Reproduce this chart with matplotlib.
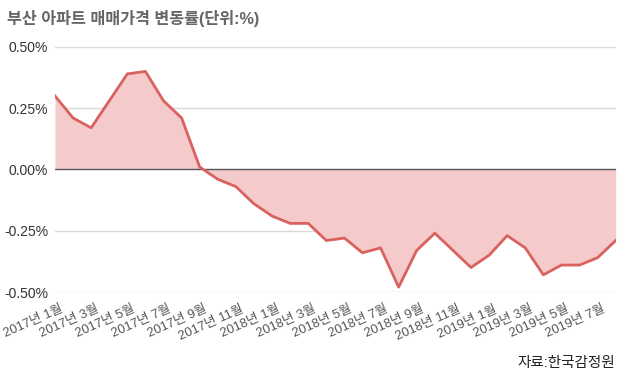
import matplotlib.pyplot as plt
import matplotlib.transforms as mtransforms
import numpy as np

plt.rcParams['font.family'] = ['Liberation Sans', 'Noto Sans CJK KR']

# monthly change, 2017.1 ~ 2019.8 (%)
months = [f'{y}년 {m}월' for y in (2017, 2018, 2019) for m in range(1, 13)][:32]
values = [0.30, 0.21, 0.17, 0.28, 0.39, 0.40, 0.28, 0.21, 0.01, -0.04,
          -0.07, -0.14, -0.19, -0.22, -0.22, -0.29, -0.28, -0.34, -0.32, -0.48,
          -0.33, -0.26, -0.33, -0.40, -0.35, -0.27, -0.32, -0.43, -0.39, -0.39,
          -0.36, -0.29]
yticks = [0.5, 0.25, 0.0, -0.25, -0.5]

x = np.arange(len(values))
v = np.array(values) / 100

fig = plt.figure(figsize=(6.3, 3.86), dpi=100)
ax = fig.add_axes([0.0873, 0.2435, 0.890, 0.635])

for t in yticks:
    if t != 0:
        ax.axhline(t / 100, color='#d9d9d9', lw=1, zorder=1)
ax.fill_between(x, v, 0, color='#f5caca', lw=0, zorder=2)
ax.axhline(0, color='#555555', lw=1, zorder=3)
ax.plot(x, v, color='#d9625e', lw=2, zorder=4)

ax.set_xlim(0, len(values) - 1)
ax.set_ylim(-0.005, 0.005)
ax.set_yticks([t / 100 for t in yticks])
ax.set_yticklabels([f'{t:.2f}%' for t in yticks], fontsize=10, color='#333333')
ax.set_xticks(x[::2])
ax.set_xticklabels([])
ax.tick_params(axis='y', length=0, pad=5)
ax.tick_params(axis='x', length=0)
for s in ax.spines.values():
    s.set_visible(False)

# rotated month labels, anchored slightly right of / below each tick
shift = mtransforms.ScaledTranslation(7 / 100, -17 / 100, fig.dpi_scale_trans)
for xi in x[::2]:
    ax.text(xi, 0, months[xi], transform=ax.get_xaxis_transform() + shift,
            rotation=24, ha='right', va='center', rotation_mode='anchor',
            fontsize=9.3, color='#555555', clip_on=False)

fig.text(0.011, 0.953, '부산 아파트 매매가격 변동률(단위:%)', fontsize=11.7,
         fontweight='bold', color='#666666', va='center')
fig.text(0.977, 0.06, '자료:한국감정원', fontsize=10.5, color='#222222',
         ha='right', va='center')

fig.savefig('out.png', dpi=100)
